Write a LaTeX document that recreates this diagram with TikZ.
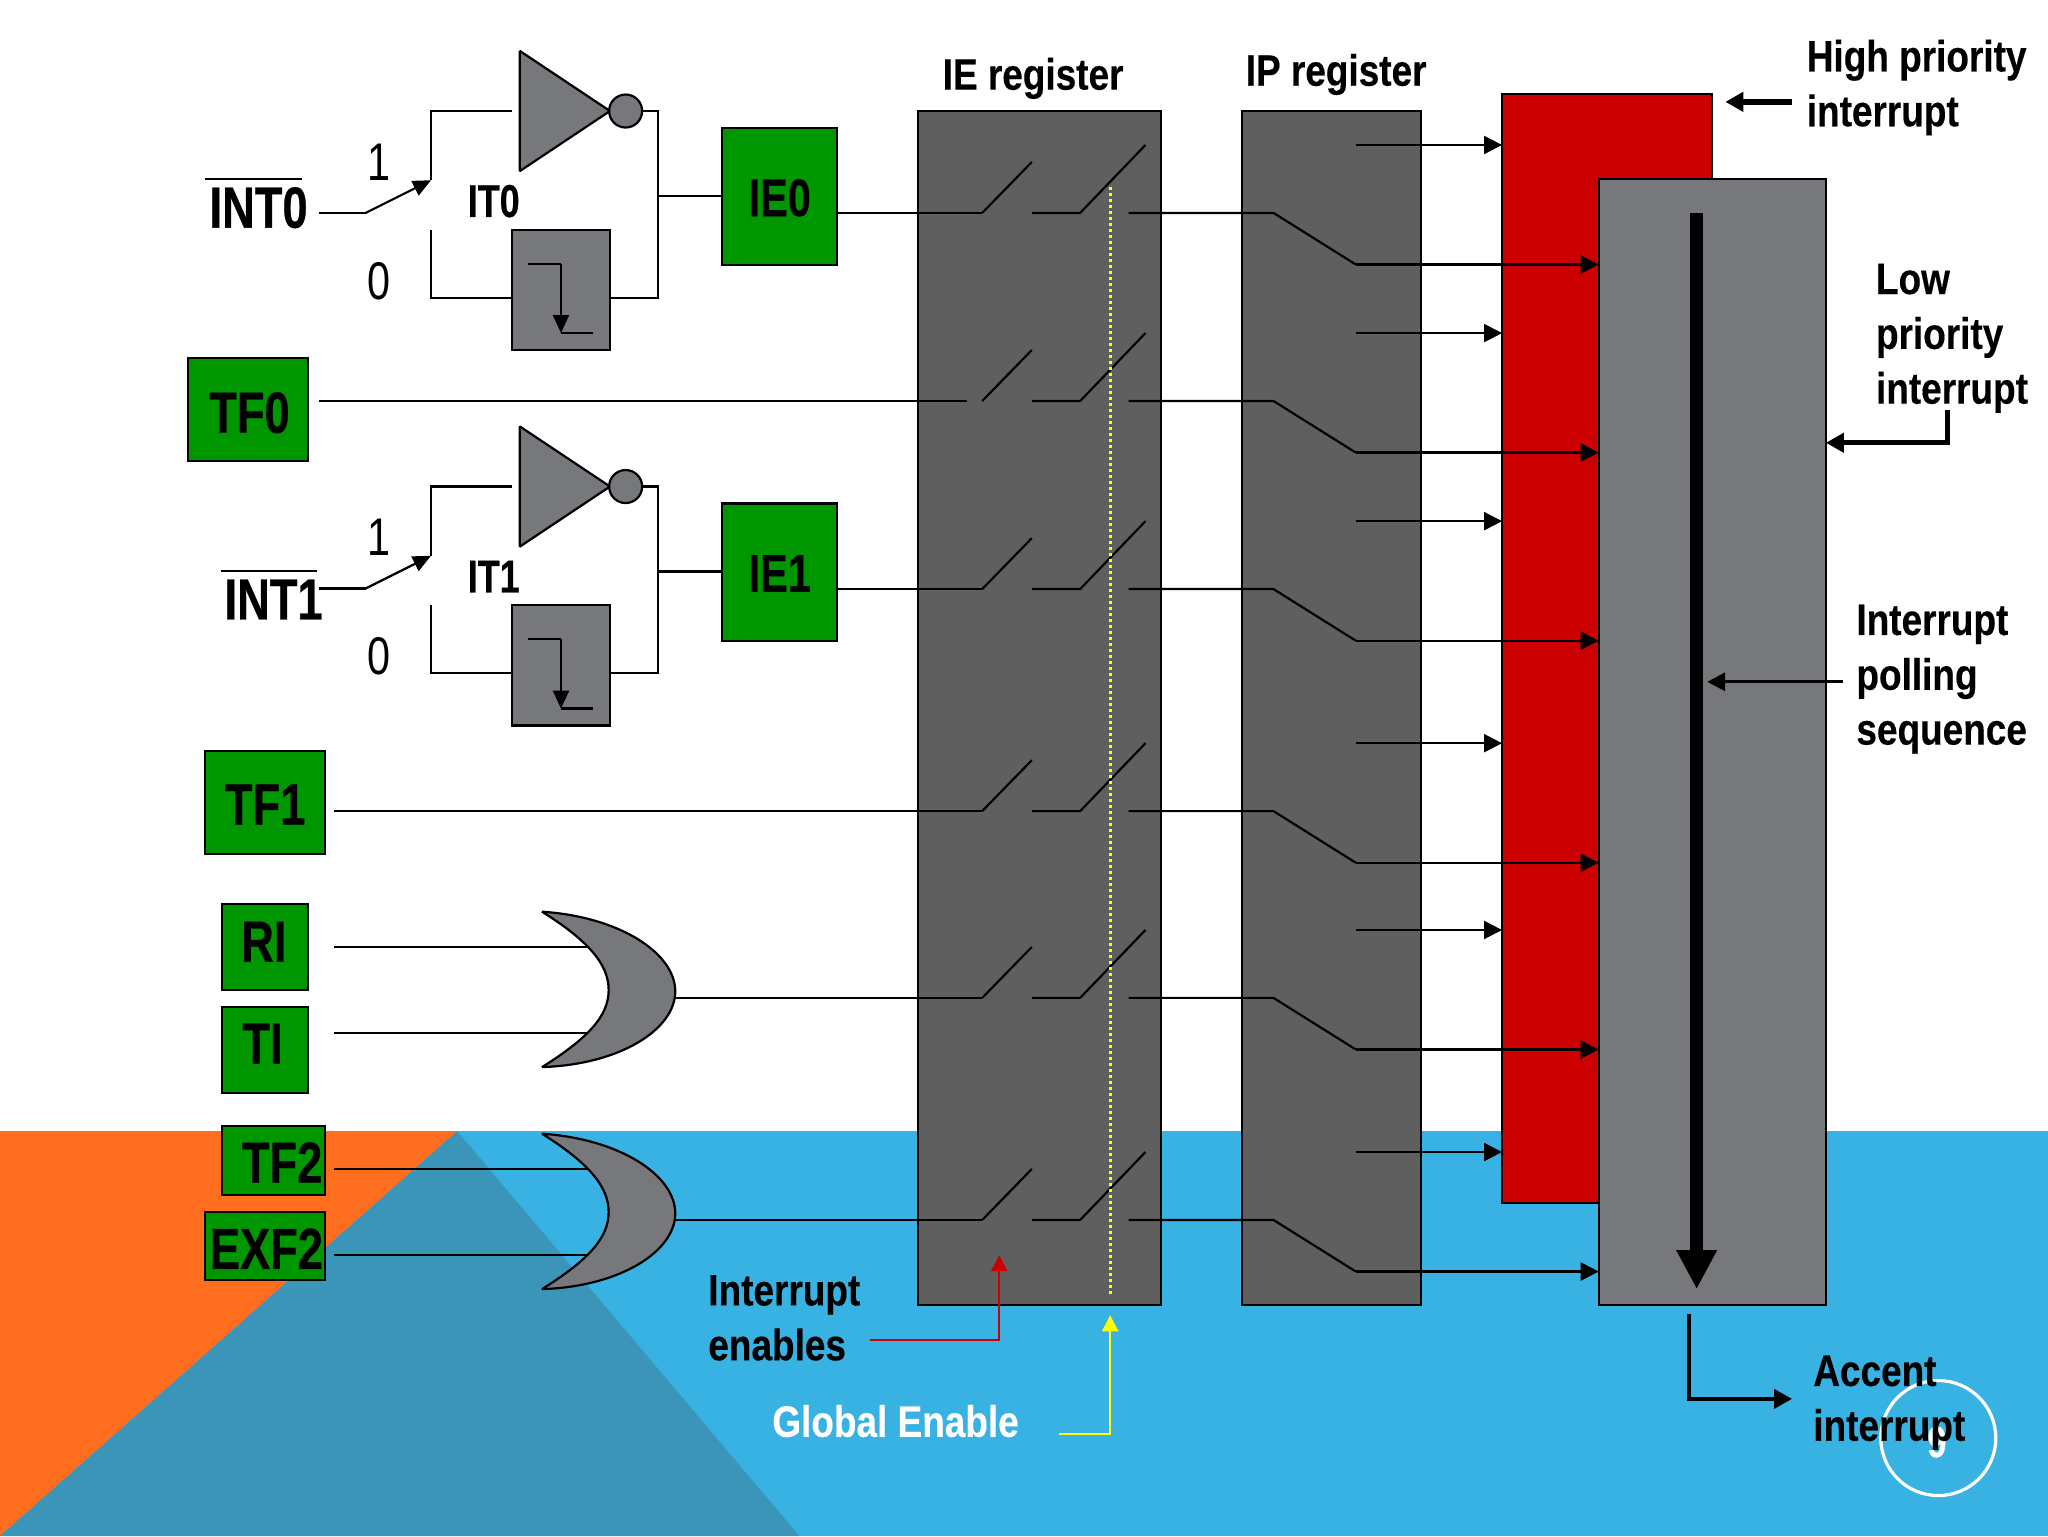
\documentclass[tikz,border=0pt]{standalone}
\usepackage{fontspec}
\usetikzlibrary{arrows.meta}
\newfontfamily\lblfont[FakeStretch=.78]{Liberation Sans}
\newfontfamily\lblbold[UprightFont=* Bold,FakeStretch=.78,FakeBold=.5]{Liberation Sans}
\newfontfamily\notefont[UprightFont=* Bold,FakeStretch=.84,FakeBold=.3]{Liberation Sans}
\definecolor{orangebg}{HTML}{FF6D1F}
\definecolor{bluebg}{HTML}{38B1E3}
\definecolor{tealbg}{HTML}{3B95B9}
\definecolor{gategray}{HTML}{77787B}
\definecolor{darkgray}{HTML}{5F5F5F}
\definecolor{redbox}{HTML}{CC0000}
\definecolor{greenbox}{HTML}{009600}
\definecolor{yellowline}{HTML}{FFFF00}
\newcommand{\unitpt}{0.65306}
% \boxat{name}{x1}{y1}{x2}{y2}{style}
\newcommand{\boxat}[6]{%
  \pgfmathsetmacro{\bw}{((#4)-(#2))*\unitpt}%
  \pgfmathsetmacro{\bh}{((#5)-(#3))*\unitpt}%
  \node[#6,minimum width=\bw pt,minimum height=\bh pt] (#1) at ({((#2)+(#4))/2},{((#3)+(#5))/2}) {};}
\tikzset{
  wire/.style={draw=black,line width=1.1pt},
  wirearrow/.style={wire,-{Triangle[length=9pt,width=9pt]}},
  heavyarrow/.style={draw=black,line width=2.6pt,-{Triangle[length=9pt,width=9.5pt]}},
  boxbase/.style={rectangle,draw=black,line width=1.1pt,inner sep=0pt,outer sep=0pt},
  greenb/.style={boxbase,fill=greenbox},
  grayb/.style={boxbase,fill=gategray},
  darkb/.style={boxbase,fill=darkgray},
  redb/.style={boxbase,fill=redbox},
  gatefill/.style={fill=gategray,draw=black,line width=1.1pt,line join=bevel},
  biglabel/.style={font=\lblbold\fontsize{29}{32}\selectfont,inner sep=0pt,text=black},
  iebox/.style={font=\lblbold\fontsize{26.5}{30}\selectfont,inner sep=0pt,text=black},
  itlabel/.style={font=\lblbold\fontsize{23}{26}\selectfont,inner sep=0pt,text=black},
  numlabel/.style={font=\lblfont\fontsize{26.5}{30}\selectfont,inner sep=0pt,text=black},
  note/.style={font=\notefont\fontsize{22}{27.4}\selectfont,inner sep=0pt,align=left,anchor=west,text=black},
}
\begin{document}
\begin{tikzpicture}[x=\unitpt pt,y=-\unitpt pt]
\useasboundingbox (0,0) rectangle (1568,1176);
% background
\fill[white] (0,0) rectangle (1568,866);
\fill[bluebg] (0,866) rectangle (1568,1176);
\fill[orangebg] (0,866) -- (350,866) -- (0,1176) -- cycle;
\fill[tealbg] (350,866) -- (612,1176) -- (0,1176) -- cycle;
% register blocks
\boxat{ie}{703}{85}{889}{999}{darkb}
\boxat{ip}{951}{85}{1088}{999}{darkb}
\boxat{high}{1150}{72}{1311}{921}{redb}
\boxat{low}{1224}{137}{1398}{999}{grayb}
% INT latch groups
\foreach \n/\d in {0/0,1/287.5}{
  \coordinate (pivot\n) at (280,163+\d);
  \coordinate (swin\n) at (244,163+\d);
  \coordinate (sw1\n) at (330,138+\d);
  \coordinate (uptop\n) at (330,85+\d);
  \coordinate (invin\n) at (392,85+\d);
  \coordinate (sw0\n) at (330,176+\d);
  \coordinate (lowcorner\n) at (330,228+\d);
  \coordinate (bustop\n) at (504,85+\d);
  \coordinate (busbot\n) at (504,228+\d);
  \coordinate (busmid\n) at (504,150+\d);
  \boxat{edge\n}{392}{176+\d}{467}{268+\d}{grayb}
  \fill[gategray,draw=black,line width=1.1pt,line join=bevel] (398,39+\d) -- (398,131+\d) -- (467,85+\d) -- cycle;
  \node[circle,gatefill,minimum size=16.5pt,inner sep=0pt,outer sep=0pt] (bub\n) at (479,85+\d) {};
  \draw[wire] (swin\n) -- (pivot\n);
  \draw[wire,-{Triangle[length=9pt,width=8pt]}] (pivot\n) -- (sw1\n);
  \draw[wire] (sw1\n) -- (uptop\n) -- (invin\n);
  \draw[wire] (sw0\n) -- (lowcorner\n) -- (edge\n.west |- lowcorner\n);
  \draw[wire] (bub\n.east) -- (bustop\n) -- (busbot\n) -- (edge\n.east |- busbot\n);
  \coordinate (st1\n) at (404,202+\d);
  \coordinate (st2\n) at (429.5,202+\d);
  \coordinate (st3\n) at (429.5,255+\d);
  \coordinate (st4\n) at (454,255+\d);
  \draw[wire] (st1\n) -- (st2\n);
  \draw[wire,-{Triangle[length=9pt,width=8pt]}] (st2\n) -- (st3\n);
  \draw[wire] (st3\n) -- (st4\n);
  \node[numlabel] (one\n) at (290,124+\d) {1};
  \node[numlabel] (zero\n) at (290,215+\d) {0};
  \node[itlabel] (it\n) at (378,154+\d) {IT\n};
  \boxat{iebox\n}{553}{98+\d}{641}{203+\d}{greenb}
  \node[iebox] (ietext\n) at (597,151.5+\d) {IE\n};
  \draw[wire] (busmid\n) -- (iebox\n.west |- busmid\n);
}
% source boxes
\boxat{tf0}{144}{274}{236}{353}{greenb}
\node[biglabel] (tf0t) at (191,316) {TF0};
\boxat{tf1}{157}{575}{249}{654}{greenb}
\node[biglabel] (tf1t) at (203,616) {TF1};
\boxat{ri}{170}{692}{236}{758}{greenb}
\node[biglabel] (rit) at (202,721) {RI};
\boxat{ti}{170}{771}{236}{837}{greenb}
\node[biglabel] (tit) at (201,799) {TI};
\boxat{tf2}{170}{862}{249}{915}{greenb}
\node[biglabel] (tf2t) at (216,890) {TF2};
\boxat{exf2}{157}{928}{249}{980}{greenb}
\node[biglabel] (exf2t) at (204,956) {EXF2};
% INT labels
\node[biglabel] (int0) at (198,159) {INT0};
\node[biglabel] (int1) at (209.5,459) {INT1};
\coordinate (ov0a) at (157,137); \coordinate (ov0b) at (231,137);
\coordinate (ov1a) at (169,437); \coordinate (ov1b) at (243,437);
\draw[wire] (ov0a) -- (ov0b);
\draw[wire] (ov1a) -- (ov1b);
% input wires and OR gates
\foreach \n/\d/\a/\b/\s in {a/0/ri/ti/764,b/170/tf2/exf2/934}{
  \coordinate (ina\n) at (256,725+\d);
  \coordinate (ena\n) at (458,725+\d);
  \coordinate (inb\n) at (256,791+\d);
  \coordinate (enb\n) at (458,791+\d);
  \draw[wire] (ina\n) -- (ena\n);
  \draw[wire] (inb\n) -- (enb\n);
  \filldraw[gatefill] (415,698+\d) .. controls (475,702+\d) and (517,730+\d) .. (517,759+\d)
    .. controls (517,788+\d) and (475,815+\d) .. (415,817+\d)
    .. controls (450,795+\d) and (466,778+\d) .. (466,758+\d)
    .. controls (466,738+\d) and (450,720+\d) .. (415,698+\d) -- cycle;
  \coordinate (orout\n) at (517,\s);
}
% enable and priority switches
\coordinate (r1start) at (641,163);
\coordinate (r2start) at (244,307);
\coordinate (r3start) at (641,451);
\coordinate (r4start) at (256,621);
\coordinate (r5start) at (517,764);
\coordinate (r6start) at (517,934);
\coordinate (r1sw) at (752,163);
\coordinate (r2sw) at (740,307);
\coordinate (r3sw) at (752,451);
\coordinate (r4sw) at (752,621);
\coordinate (r5sw) at (752,764);
\coordinate (r6sw) at (752,934);
\foreach \r/\y in {1/163,2/307,3/451,4/621,5/764,6/934}{
  \coordinate (p\r a) at (752,\y);
  \coordinate (p\r b) at (790,\y-39);
  \coordinate (p\r c) at (790,\y);
  \coordinate (p\r d) at (827,\y);
  \coordinate (p\r e) at (877,\y-52);
  \coordinate (p\r f) at (864,\y);
  \coordinate (p\r g) at (975,\y);
  \coordinate (p\r h) at (1038,\y+39.5);
  \coordinate (p\r i) at (1038,\y-52);
  \draw[wire] (r\r start) -- (r\r sw);
  \draw[wire] (p\r a) -- (p\r b);
  \draw[wire] (p\r c) -- (p\r d) -- (p\r e);
  \draw[wire] (p\r f) -- (p\r g) -- (p\r h);
  \draw[wirearrow] (p\r h) -- (low.west |- p\r h);
  \draw[wirearrow] (p\r i) -- (high.west |- p\r i);
}
% global enable dotted line
\coordinate (gtop) at (850,143);
\coordinate (gbot) at (850,992);
\draw[yellowline,line width=1.5pt,dash pattern=on 1.5pt off 1.5pt] (gtop) -- (gbot);
% polling arrow
\coordinate (polltop) at (1299,163);
\coordinate (pollbot) at (1299,987);
\draw[line width=6.5pt,-{Triangle[length=19.5pt,width=19pt]}] (polltop) -- (pollbot);
% page number circle (under the text)
\node[circle,draw=white,line width=1.6pt,minimum size=57.5pt,inner sep=0pt] (pagering) at (1484,1101) {};
\node[font=\lblbold\fontsize{22}{24}\selectfont,text=white,inner sep=0pt] (pagenum) at (1483,1104) {9};
% labels
\node[note,anchor=center] (ielabel) at (791,60) {IE register};
\node[note,anchor=center] (iplabel) at (1023,57) {IP register};
\node[note] (highlabel) at (1383,67) {High priority\\interrupt};
\node[note] (lowlabel) at (1436,259) {Low\\priority\\interrupt};
\node[note] (polllabel) at (1421,520) {Interrupt\\polling\\sequence};
\node[note] (enlabel) at (542,1009) {Interrupt\\enables};
\node[note,text=white] (gelabel) at (591,1088) {Global Enable};
\node[note] (acclabel) at (1388,1074) {Accent\\interrupt};
% callouts
\coordinate (ha) at (1372,78); \coordinate (hb) at (1321,78);
\draw[heavyarrow,line width=3pt] (ha) -- (hb);
\coordinate (la) at (1491,314); \coordinate (lb) at (1491,339);
\draw[heavyarrow] (la) -- (lb) -- (low.east |- lb);
\coordinate (pa) at (1411,522); \coordinate (pb) at (1307,522);
\draw[wirearrow,line width=1.6pt] (pa) -- (pb);
\coordinate (aa) at (1293,1006); \coordinate (ab) at (1293,1071); \coordinate (ac) at (1372,1071);
\draw[heavyarrow,line width=2pt] (aa) -- (ab) -- (ac);
\coordinate (ra) at (666,1026); \coordinate (rb) at (765,1026); \coordinate (rc) at (765,961);
\draw[draw=redbox,line width=1.2pt,-{Triangle[length=8pt,width=8pt,fill=redbox]}] (ra) -- (rb) -- (rc);
\coordinate (ya) at (811,1098); \coordinate (yb) at (850,1098); \coordinate (yc) at (850,1007);
\draw[draw=yellowline,line width=1.2pt,-{Triangle[length=8pt,width=8pt,fill=yellowline]}] (ya) -- (yb) -- (yc);
\end{tikzpicture}
\end{document}
